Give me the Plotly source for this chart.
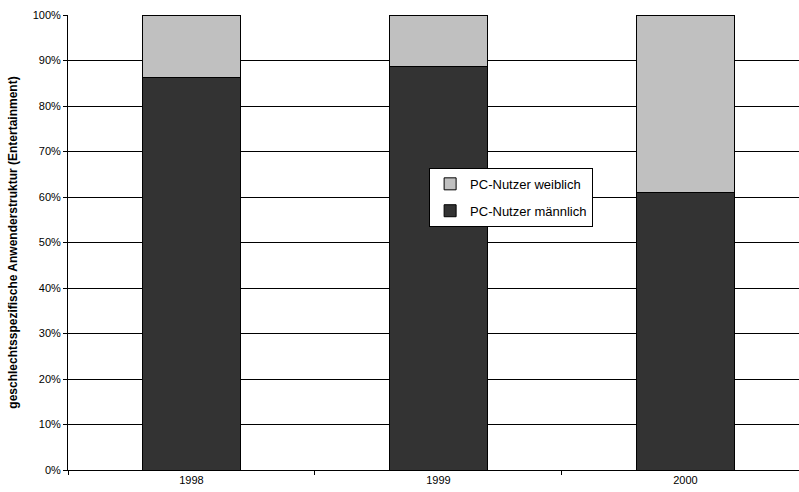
import plotly.graph_objects as go

years = ["1998", "1999", "2000"]
male_share = [86.2, 88.6, 61.0]
female_share = [13.8, 11.4, 39.0]
y_ticks = [0, 10, 20, 30, 40, 50, 60, 70, 80, 90, 100]
y_tick_labels = [f"{v}%" for v in y_ticks]

font_family = "Liberation Sans, Arial, sans-serif"
ink = "#000000"

fig = go.Figure()
fig.add_trace(go.Bar(
    x=years, y=male_share, name="PC-Nutzer männlich",
    marker=dict(color="#333333", line=dict(color=ink, width=1)),
    width=0.4, legendrank=2, legendgroup="m",
))
fig.add_trace(go.Bar(
    x=years, y=female_share, name="PC-Nutzer weiblich",
    marker=dict(color="#c0c0c0", line=dict(color=ink, width=1)),
    width=0.4, legendrank=1, legendgroup="w",
))

fig.update_layout(
    barmode="stack",
    width=799, height=492,
    margin=dict(l=68, r=0, t=15, b=22),
    paper_bgcolor="white", plot_bgcolor="white",
    font=dict(family=font_family, size=11, color=ink),
    showlegend=True,
    legend=dict(
        x=0.494, y=0.664, xanchor="left", yanchor="top",
        bgcolor="white", bordercolor=ink, borderwidth=1,
        font=dict(size=13, family=font_family, color=ink),
        traceorder="grouped", tracegroupgap=7,
        itemwidth=30,
    ),
    xaxis=dict(
        type="category", range=[-0.5, 2.46],
        showgrid=False, showline=True, linecolor=ink, linewidth=1,
        ticks="outside", ticklen=4, tickcolor=ink,
        tickson="boundaries",
        tickfont=dict(size=11, family=font_family, color=ink),
    ),
    yaxis=dict(
        range=[0, 100], tickvals=y_ticks, ticktext=y_tick_labels,
        showgrid=True, gridcolor=ink, gridwidth=1,
        showline=True, linecolor=ink, linewidth=1,
        ticks="outside", ticklen=4, tickcolor=ink,
        tickfont=dict(size=11, family=font_family, color=ink),
        zeroline=False,
        title=dict(
            text="<b>geschlechtsspezifische Anwenderstruktur (Entertainment)</b>",
            font=dict(size=12, family=font_family, color=ink), standoff=12,
        ),
    ),
)

fig.write_html("out.html")
